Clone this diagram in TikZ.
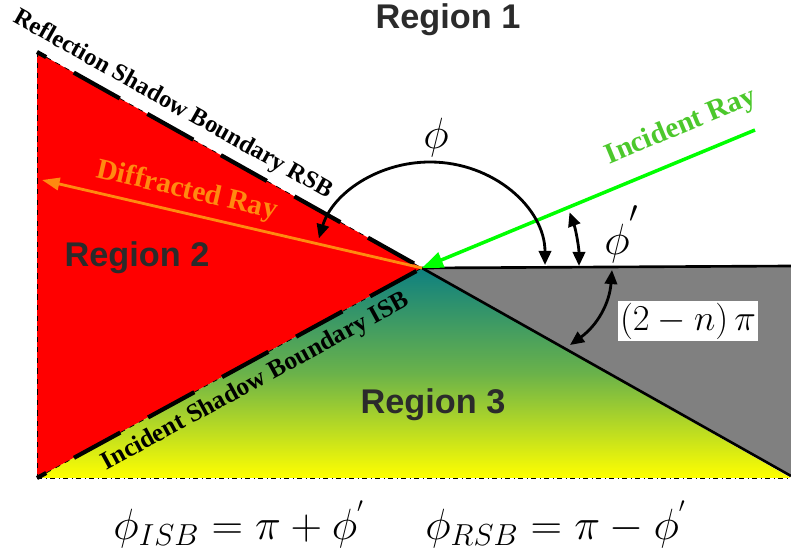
\documentclass[tikz,border=0pt]{standalone}
\usepackage{amsmath}
\usepackage{fontspec}
\setmainfont{Liberation Serif}
\setsansfont{Liberation Sans}
\usetikzlibrary{arrows.meta,calc}
\definecolor{wedgeGray}{HTML}{808080}
\definecolor{rayGreen}{HTML}{00FF00}
\definecolor{rayText}{HTML}{4CC82C}
\definecolor{rayOrange}{HTML}{FF8A10}
\definecolor{regText}{HTML}{2B2B2B}
\definecolor{shadeTop}{HTML}{0E8080}
\definecolor{shadeMid}{HTML}{6AB24A}

\begin{document}
\begin{tikzpicture}[x=0.02cm,y=-0.02cm,
  region/.style={font=\sffamily\bfseries\fontsize{19.5}{22}\selectfont,text=regText},
  bdry/.style={font=\bfseries\fontsize{14}{16}\selectfont,inner sep=0pt},
  bigmath/.style={font=\fontsize{33}{36}\selectfont},
  dbl/.style={line width=1.6pt,{Triangle[length=8pt,width=7pt]}-{Triangle[length=8pt,width=7pt]}},
  bound/.style={line width=2.4pt,dash pattern=on 30pt off 18pt,dash phase=24pt}]
  \useasboundingbox (0,0) rectangle (791,553);
  \coordinate (O) at (422,268);
  \coordinate (TL) at (37,52);
  \coordinate (BL) at (37,478);
  \coordinate (BR) at (791,478);
  \coordinate (TR) at (791,266);
  \coordinate (WR) at (791,476);
  \coordinate (inc) at (755,130);
  \coordinate (dif) at (42,180);
  % regions
  \fill[red] (TL) -- (O) -- (BL) -- cycle;
  \shade[top color=shadeTop,bottom color=yellow,middle color=shadeMid] (BL) -- (O) -- (BR) -- cycle;
  \fill[wedgeGray] (O) -- (TR) -- (WR) -- cycle;
  % boundaries
  \draw[thin,dashed] (TL) -- (BL);
  \draw[thin,dash dot] (BL) -- (BR);
  \draw[thin,dashed] (TL) -- (O);
  \draw[bound] (TL) -- (O);
  \draw[thin,dashed] (BL) -- (O);
  \draw[bound] (BL) -- (O);
  \draw[line width=1.5pt] (O) -- (TR);
  \draw[line width=1.5pt] (O) -- (WR);
  % rays
  \draw[rayOrange,line width=1.6pt,-{Triangle[length=10pt,width=7pt]}] (O) -- (dif);
  \draw[rayGreen,line width=2pt,-{Triangle[length=12pt,width=9pt]}] (inc) -- (O);
  % angles
  \coordinate (phiR) at (545,265);
  \coordinate (ppR) at (579,266);
  \coordinate (wTop) at (612,270);
  \coordinate (wBot) at (570,345);
  \draw[dbl] (phiR) arc[start angle=0,end angle=-165,x radius=115,y radius=103];
  \draw[dbl] (ppR) arc[start angle=0,end angle=-20,radius=157];
  \draw[dbl] (wTop) to[bend left=25] (wBot);
  \node[bigmath] (phi) at (436,138) {$\phi$};
  \node[bigmath] (phip) at (622,234) {$\phi^{'}$};
  \node[fill=white,inner sep=1pt,font=\fontsize{19.5}{24}\selectfont] (wedge) at (688,321) {$(2-n)\,\pi$};
  % labels
  \node[region] (r1) at (448,20) {Region 1};
  \node[region] (r2) at (137,258) {Region 2};
  \node[region] (r3) at (433,405) {Region 3};
  \node[bdry,rotate=-29.3] (rsb) at (173,105) {Reflection Shadow Boundary RSB};
  \node[bdry,rotate=28.6,font=\bfseries\fontsize{14.5}{17}\selectfont] (isb) at (256,382) {Incident Shadow Boundary ISB};
  \node[bdry,rotate=-13,text=rayOrange,font=\bfseries\fontsize{16.5}{19}\selectfont] (difl) at (187,191) {Diffracted Ray};
  \node[bdry,rotate=22.5,text=rayText,font=\bfseries\fontsize{16.5}{19}\selectfont] (incl) at (681,127) {Incident Ray};
  \node[font=\fontsize{23}{27}\selectfont] (eq) at (400,524)
    {$\phi_{ISB}=\pi+\phi^{'}$\hspace{1.5em}$\phi_{RSB}=\pi-\phi^{'}$};
\end{tikzpicture}
\end{document}
